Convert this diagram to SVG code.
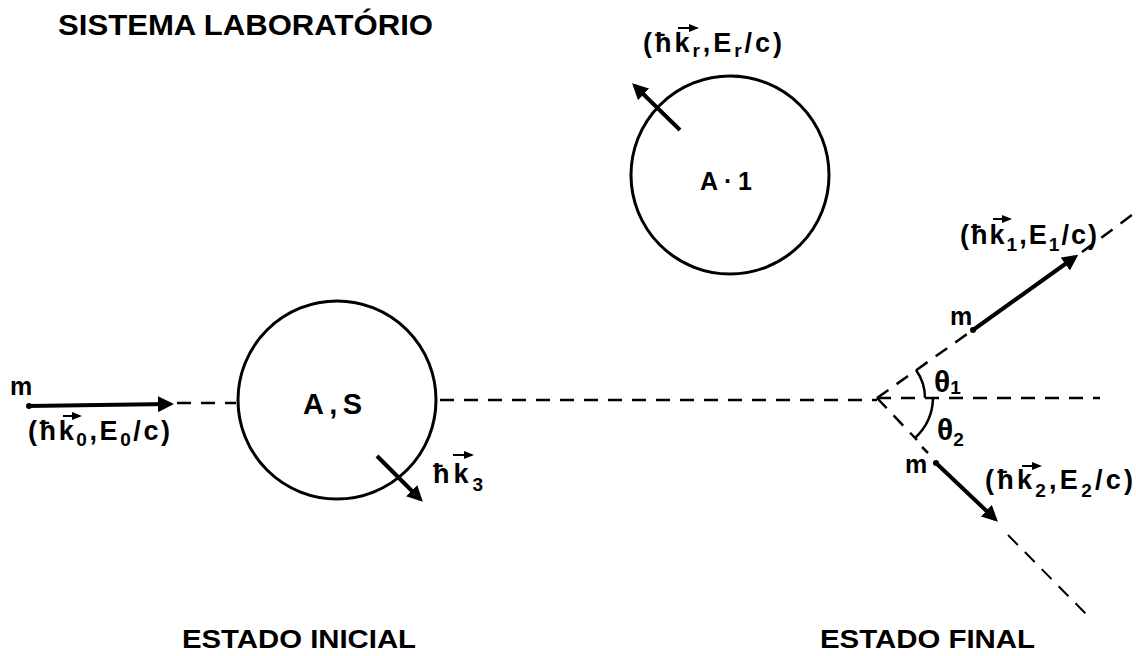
<svg xmlns="http://www.w3.org/2000/svg" width="1136" height="656" viewBox="0 0 1136 656">
<defs>
<marker id="ah" markerWidth="4" markerHeight="4" refX="3" refY="2" orient="auto" markerUnits="strokeWidth">
<path d="M0,0 L4,2 L0,4 Z" fill="#000"/>
</marker>
<marker id="sah" markerWidth="5" markerHeight="5" refX="4" refY="2.5" orient="auto" markerUnits="strokeWidth">
<path d="M0,0.5 L5,2.5 L0,4.5 Z" fill="#000"/>
</marker>
</defs>
<style>
text{font-family:"Liberation Sans",Arial,sans-serif;font-weight:bold;fill:#000}
.title{font-size:29px}
.state{font-size:25px}
.lbl{font-size:27px}
.sub{font-size:19px}
.m{font-size:25px}
.circ{fill:none;stroke:#000;stroke-width:3}
.dash{fill:none;stroke:#000;stroke-width:2.5;stroke-dasharray:14 10}
.arr{fill:none;stroke:#000;stroke-width:4;marker-end:url(#ah)}
.karr{fill:none;stroke:#000;stroke-width:2;marker-end:url(#sah)}
.arc{fill:none;stroke:#000;stroke-width:2.5}
</style>
<rect width="1136" height="656" fill="#fff"/>

<text class="title" x="58" y="35" textLength="375" lengthAdjust="spacingAndGlyphs">SISTEMA LABORATÓRIO</text>
<text class="state" x="182" y="648" textLength="234" lengthAdjust="spacingAndGlyphs">ESTADO INICIAL</text>
<text class="state" x="820" y="648" textLength="215" lengthAdjust="spacingAndGlyphs">ESTADO FINAL</text>

<g id="connectors">
<path class="dash" d="M177,403 H236"/>
<path class="dash" d="M440,400 H877"/>
<path class="dash" d="M877,398 H1100"/>
<path class="dash" d="M877,398 L970,332"/>
<path class="dash" d="M1082,252 L1132,215"/>
<path class="dash" d="M877,398 L917,440"/>
<path class="dash" d="M922,447 L928,453"/>
<path class="dash" d="M1008,535 L1090,618" style="stroke-width:2"/>
<path class="arc" d="M916,370 A48,48 0 0 1 925,398"/>
<path class="arc" d="M933,398 A56,56 0 0 1 915,438"/>
</g>

<g id="incoming">
<text class="m" x="10" y="395">m</text>
<path class="arr" d="M28,406 L170,404"/>
<circle cx="29" cy="406" r="3"/>
<text class="lbl" x="28" y="440" textLength="142" lengthAdjust="spacing">(ħk<tspan class="sub" dy="6">0</tspan><tspan dy="-6">,E</tspan><tspan class="sub" dy="6">0</tspan><tspan dy="-6">/c)</tspan></text>
<path class="karr" d="M63,416 H80"/>
</g>

<g id="nucleus-AS">
<circle class="circ" cx="337" cy="400" r="99"/>
<text x="303" y="414" style="font-size:29px" textLength="59" lengthAdjust="spacing">A,S</text>
<path class="arr" d="M377,456 L420,499"/>
<text class="lbl" x="433" y="483" textLength="50" lengthAdjust="spacing">ħk<tspan class="sub" dy="8">3</tspan></text>
<path class="karr" d="M453,455 H472"/>
</g>

<g id="nucleus-A1">
<circle class="circ" cx="730" cy="175" r="99"/>
<text x="700" y="190" style="font-size:25px" textLength="52" lengthAdjust="spacing">A·1</text>
<path class="arr" d="M680,130 L635,86"/>
<text class="lbl" x="643" y="52" textLength="139" lengthAdjust="spacing">(ħk<tspan class="sub" dy="5">r</tspan><tspan dy="-5">,E</tspan><tspan class="sub" dy="5">r</tspan><tspan dy="-5">/c)</tspan></text>
<path class="karr" d="M678,28 H697"/>
</g>

<g id="particle-1">
<text class="m" x="950" y="325">m</text>
<circle cx="973" cy="330" r="3"/>
<path class="arr" d="M973,330 L1075,257"/>
<text class="lbl" x="960" y="244" textLength="137" lengthAdjust="spacing">(ħk<tspan class="sub" dy="7">1</tspan><tspan dy="-7">,E</tspan><tspan class="sub" dy="7">1</tspan><tspan dy="-7">/c)</tspan></text>
<path class="karr" d="M993,219 H1010"/>
<text style="font-size:30px" x="934" y="392">θ<tspan class="sub" dy="2">1</tspan></text>
</g>

<g id="particle-2">
<text class="m" x="905" y="473">m</text>
<circle cx="936" cy="463" r="3"/>
<path class="arr" d="M936,463 L995,519"/>
<text class="lbl" x="985" y="489" textLength="148" lengthAdjust="spacing">(ħk<tspan class="sub" dy="8">2</tspan><tspan dy="-8">,E</tspan><tspan class="sub" dy="8">2</tspan><tspan dy="-8">/c)</tspan></text>
<path class="karr" d="M1022,466 H1040"/>
<text style="font-size:30px" x="937" y="440">θ<tspan class="sub" dy="6">2</tspan></text>
</g>
</svg>
